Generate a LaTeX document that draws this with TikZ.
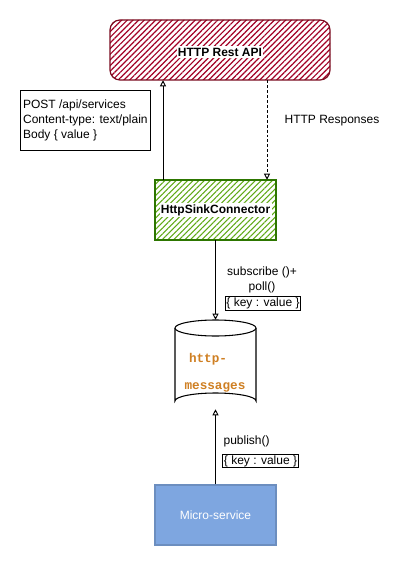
\documentclass[tikz,border=0pt]{standalone}
\usepackage{fontspec}
\setmainfont{Liberation Sans}
\newfontfamily\monofont{Liberation Mono}
\usetikzlibrary{arrows.meta,patterns.meta}
\definecolor{redhatch}{HTML}{A20025}
\definecolor{redborder}{HTML}{7A0A1E}
\definecolor{greenhatch}{HTML}{60A917}
\definecolor{greenborder}{HTML}{2D7600}
\definecolor{bluefill}{HTML}{7EA6E0}
\definecolor{blueborder}{HTML}{6C8EBF}
\definecolor{dborange}{HTML}{CF7F22}
\tikzset{
  px/.style={x=0.75pt,y=-0.75pt},
  txt/.style={font=\fontsize{9}{11}\selectfont, inner sep=1pt},
  boldlbl/.style={font=\fontsize{9}{11}\selectfont\bfseries, fill=white, inner sep=1pt},
  kv/.style={draw, line width=0.6pt, font=\fontsize{9}{11}\selectfont, inner sep=0.8pt},
  conn/.style={line width=0.7pt, -{Triangle[open, width=4.5pt, length=4.5pt]}},
}
\begin{document}
\begin{tikzpicture}[px]
\useasboundingbox (0,0) rectangle (401,566);
% HTTP Rest API
\path[pattern={Lines[angle=45,distance=3pt,line width=0.9pt]}, pattern color=redhatch,
  draw=redborder, line width=0.9pt, rounded corners=7.5pt] (110,20) rectangle (330,80);
\node[inner sep=0pt, minimum width=165pt, minimum height=45pt] (api) at (220,50) {};
\node[boldlbl] (apilbl) at (220,52) {HTTP Rest API};
% HttpSinkConnector
\path[pattern={Lines[angle=45,distance=3pt,line width=0.8pt]}, pattern color=greenhatch,
  draw=greenborder, line width=0.9pt] (155,180) rectangle (276,240);
\node[inner sep=0pt, minimum width=90.75pt, minimum height=45pt] (sink) at (215.5,210) {};
\node[boldlbl] (sinklbl) at (215.5,210) {HttpSinkConnector};
% POST label
\node[draw, line width=0.6pt, txt, align=left, anchor=north west, minimum width=97.5pt, minimum height=45pt, inner sep=2pt] (post) at (20,90)
  {POST /api/services\\Content-type: text/plain\\Body \{ value \}};
\node[txt, anchor=west] (resp) at (283,121) {HTTP Responses};
% Database cylinder
\draw[line width=0.8pt, fill=white] (175,328) -- (175,401)
  arc[start angle=180, end angle=360, x radius=40.5, y radius=8] -- (256,328);
\draw[line width=0.8pt, fill=white] (215.5,328) ellipse [x radius=40.5, y radius=8];
\node[inner sep=0pt, minimum width=60.75pt, minimum height=66.75pt] (db) at (215.5,364.5) {};
\node[font=\monofont\fontsize{9.5}{11}\selectfont\bfseries, text=dborange, inner sep=0pt] (dbl1) at (208,359) {http-};
\node[font=\monofont\fontsize{9.5}{11}\selectfont\bfseries, text=dborange, inner sep=0pt] (dbl2) at (215,387) {messages};
% Micro-service
\node[draw=blueborder, fill=bluefill, line width=0.8pt, minimum width=90.75pt, minimum height=45pt,
  font=\fontsize{9}{11}\selectfont, text=white, inner sep=0pt] (ms) at (215.5,515) {Micro-service};
% labels
\node[txt, align=center] (sub) at (262,280) {subscribe ()+\\poll()};
\node[kv] (kv1) at (263,303.5) {\{ key : value \}};
\node[txt, anchor=west] (pub) at (222,441) {publish()};
\node[kv] (kv2) at (260.5,461) {\{ key : value \}};
% connectors
\coordinate (upx) at (163,0);
\coordinate (dnx) at (267,0);
\draw[conn] (sink.north -| upx) -- (api.south -| upx);
\draw[conn, dash pattern=on 2.2pt off 1.5pt] (api.south -| dnx) -- (sink.north -| dnx);
\draw[conn] (sink.south) -- (db.north);
\draw[conn] (ms.north) -- (db.south);
\end{tikzpicture}
\end{document}
